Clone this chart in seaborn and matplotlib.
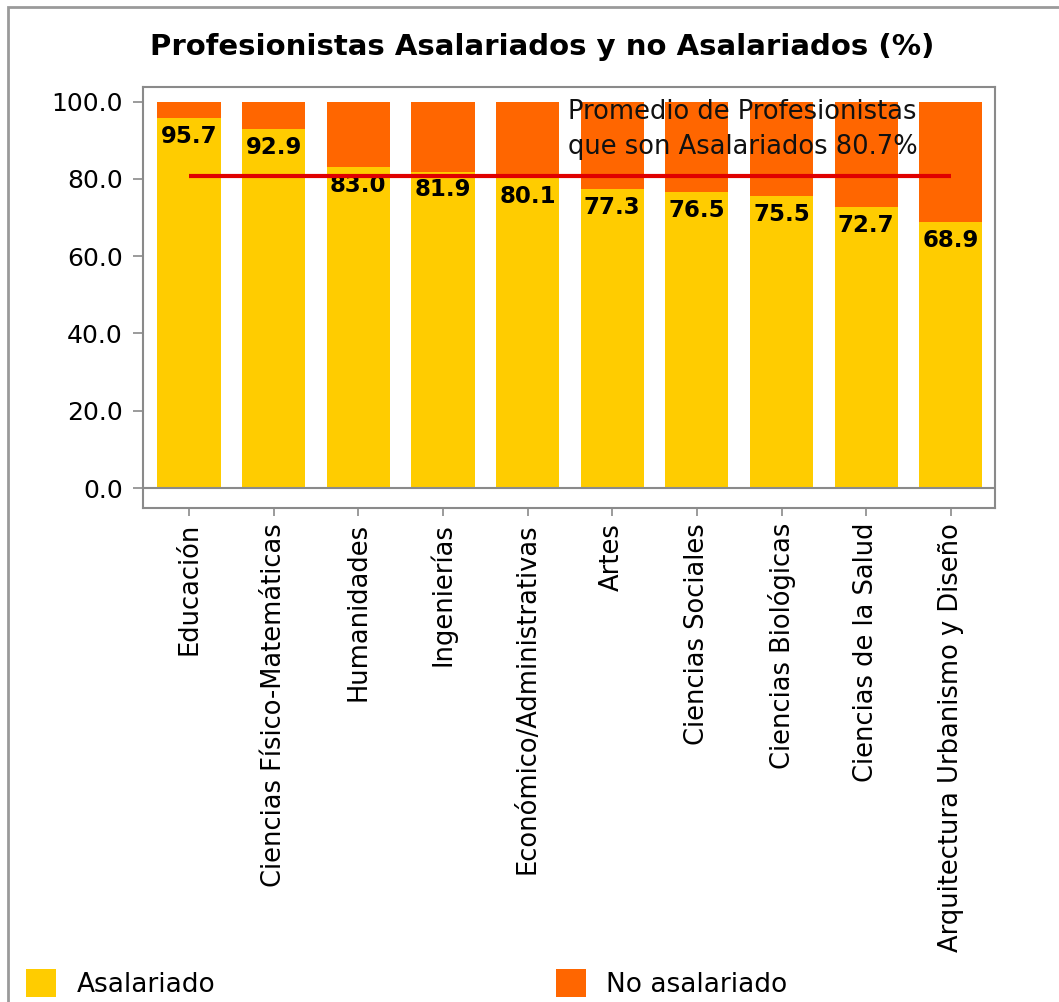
import matplotlib
matplotlib.use("Agg")
import matplotlib.pyplot as plt
from matplotlib.patches import Patch, Rectangle
import pandas as pd
import seaborn as sns

categories = [
    "Educación",
    "Ciencias Físico-Matemáticas",
    "Humanidades",
    "Ingenierías",
    "Económico/Administrativas",
    "Artes",
    "Ciencias Sociales",
    "Ciencias Biológicas",
    "Ciencias de la Salud",
    "Arquitectura Urbanismo y Diseño",
]
asalariado = [95.7, 92.9, 83.0, 81.9, 80.1, 77.3, 76.5, 75.5, 72.7, 68.9]
no_asalariado = [4.3, 7.1, 17.0, 18.1, 19.9, 22.7, 23.5, 24.5, 27.3, 31.1]
promedio = 80.7
yticks = [0, 20, 40, 60, 80, 100]

YELLOW = "#FFCC00"
ORANGE = "#FF6600"
RED = "#E00000"
GRAY = "#8A8A8A"

df = pd.DataFrame({"categoria": categories, "asalariado": asalariado, "no_asalariado": no_asalariado})
df["total"] = df["asalariado"] + df["no_asalariado"]

sns.set_style("white")
plt.rcParams["font.family"] = ["DejaVu Sans"]
plt.rcParams["text.color"] = "black"
plt.rcParams["xtick.labelcolor"] = "black"
plt.rcParams["ytick.labelcolor"] = "black"

fig = plt.figure(figsize=(10.59, 10.02), dpi=100)
ax = fig.add_axes([0.1350, 0.4933, 0.8045, 0.4196])

# orange for the full bar, yellow drawn over it
sns.barplot(data=df, x="categoria", y="total", color=ORANGE, saturation=1, width=0.745,
            edgecolor="none", linewidth=0, ax=ax)
sns.barplot(data=df, x="categoria", y="asalariado", color=YELLOW, saturation=1, width=0.745,
            edgecolor="none", linewidth=0, ax=ax)

ax.axhline(0, color=GRAY, lw=1.5, zorder=1)

for i, v in enumerate(df["asalariado"]):
    ax.annotate(f"{v:.1f}", (i, v), xytext=(0, -5), textcoords="offset points",
                ha="center", va="top", fontsize=16.5, fontweight="bold", color="black", zorder=3)

ax.plot([0, len(categories) - 1], [promedio, promedio], color=RED, lw=3, zorder=4, solid_capstyle="butt")
ax.text(4.48, 100.6, f"Promedio de Profesionistas\nque son Asalariados {promedio}%",
        ha="left", va="top", fontsize=18.5, linespacing=1.45, color="#111111", zorder=5)

ax.set_xlim(-0.544, 9.52)
ax.set_ylim(-5.1, 103.7)
ax.set_yticks(yticks)
ax.set_yticklabels([f"{t:.1f}" for t in yticks], fontsize=18)
ax.set_xticks(range(len(categories)))
ax.set_xticklabels(categories, rotation=90, fontsize=18.5, va="top", ha="center")
ax.set_xlabel("")
ax.set_ylabel("")
ax.tick_params(axis="y", length=7.5, width=1.2, color=GRAY, pad=7, left=True)
ax.tick_params(axis="x", length=6, width=1.2, color=GRAY, pad=5, bottom=True)
for s in ax.spines.values():
    s.set_color(GRAY)
    s.set_linewidth(1.5)

fig.suptitle("Profesionistas Asalariados y no Asalariados (%)", x=0.512, y=0.953,
             va="center", fontsize=21, fontweight="bold", color="black")

handles = [Patch(facecolor=YELLOW, edgecolor="none", label="Asalariado"),
           Patch(facecolor=ORANGE, edgecolor="none", label="No asalariado")]
fig.legend(handles=handles, loc="lower left", bbox_to_anchor=(0.021, 0.0), ncol=2,
           frameon=False, fontsize=19, handlelength=1.14, handleheight=1.25,
           handletextpad=0.76, columnspacing=12.9, borderpad=0.15, borderaxespad=0,
           labelcolor="black")

# outer frame of the original picture
fig.patches.append(Rectangle((8 / 1059, -0.05), 1.1, 1.05 - 7 / 1002, transform=fig.transFigure,
                             fill=False, edgecolor="#9A9A9A", lw=2))

fig.savefig("out.png", dpi=100)
plt.close(fig)
